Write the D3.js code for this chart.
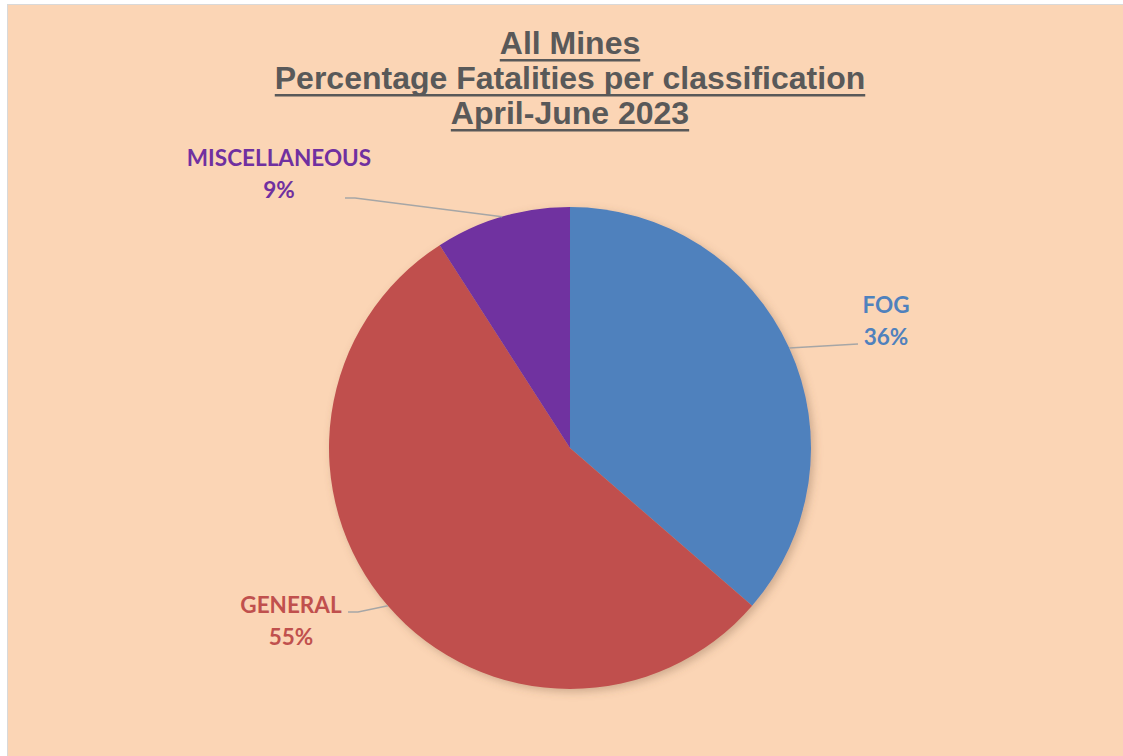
<!DOCTYPE html>
<html>
<head>
<meta charset="utf-8">
<script src="https://cdn.jsdelivr.net/npm/d3@7"></script>
<style>
  html, body { margin: 0; padding: 0; background: #fff; }
  svg { display: block; }
</style>
</head>
<body>
<div id="chart"></div>
<script>
// Data
const categories = ["FOG", "GENERAL", "MISCELLANEOUS"];
const fatalities = [4, 6, 1];
const percentLabels = ["36%", "55%", "9%"];
const colors = ["#4F81BD", "#C0504D", "#7030A0"];
const titleLines = ["All Mines", "Percentage Fatalities per classification", "April-June 2023"];

const width = 1123;
const height = 756;
const cx = 570, cy = 448, radius = 241;

// where each data label sits (text centre / baselines) and where its leader line ends
const labelLayout = {
  FOG:           { x: 886, y: 313, elbow: [858, 344], end: [858, 344] },
  GENERAL:       { x: 291, y: 613, elbow: [358, 612], end: [348, 612] },
  MISCELLANEOUS: { x: 279, y: 166, elbow: [355, 198], end: [345, 198] }
};

const svg = d3.select("#chart")
  .append("svg")
  .attr("width", width)
  .attr("height", height);

// chart area with the thin grey frame
svg.append("rect")
  .attr("x", 7.5).attr("y", 4.5)
  .attr("width", width + 20).attr("height", height + 20)
  .attr("fill", "#FBD5B5")
  .attr("stroke", "#D9D9D9")
  .attr("stroke-width", 1);

const defs = svg.append("defs");
const shadow = defs.append("filter")
  .attr("id", "shadow")
  .attr("x", "-20%").attr("y", "-20%")
  .attr("width", "140%").attr("height", "140%");
shadow.append("feDropShadow")
  .attr("dx", 3).attr("dy", 3)
  .attr("stdDeviation", 4)
  .attr("flood-color", "#7a5a40")
  .attr("flood-opacity", 0.35);

// Title
const title = svg.append("g")
  .attr("font-family", "'Liberation Sans', Arial, sans-serif")
  .attr("font-weight", "bold")
  .attr("font-size", 32)
  .attr("fill", "#595959");

titleLines.forEach((line, i) => {
  const baseline = 54 + i * 35;
  const txt = title.append("text")
    .attr("x", cx)
    .attr("y", baseline)
    .attr("text-anchor", "middle")
    .text(line);
  const w = txt.node().getComputedTextLength();
  title.append("rect")
    .attr("x", cx - w / 2)
    .attr("y", baseline + 5)
    .attr("width", w)
    .attr("height", 2.5)
    .attr("fill", "#595959");
});

// Pie
const pie = d3.pie().sort(null).value(d => d.value);
const arc = d3.arc().innerRadius(0).outerRadius(radius);

const data = categories.map((c, i) => ({
  name: c,
  value: fatalities[i],
  pct: percentLabels[i],
  color: colors[i]
}));
const arcs = pie(data);

const g = svg.append("g").attr("transform", `translate(${cx},${cy})`);

g.append("g")
  .attr("filter", "url(#shadow)")
  .selectAll("path")
  .data(arcs)
  .join("path")
  .attr("d", arc)
  .attr("fill", d => d.data.color);

// leader lines: start on the rim at the slice mid angle
const rimPoint = d => {
  const a = (d.startAngle + d.endAngle) / 2;
  return [cx + radius * Math.sin(a), cy - radius * Math.cos(a)];
};

svg.append("g")
  .selectAll("polyline")
  .data(arcs)
  .join("polyline")
  .attr("points", d => {
    const L = labelLayout[d.data.name];
    return [rimPoint(d), L.elbow, L.end].map(p => p.join(",")).join(" ");
  })
  .attr("fill", "none")
  .attr("stroke", "#A6A6A6")
  .attr("stroke-width", 1.5);

// Data labels
const labels = svg.append("g")
  .attr("font-family", "Lato, 'Open Sans', sans-serif")
  .attr("font-weight", "bold")
  .attr("font-size", 22.5)
  .attr("text-anchor", "middle")
  .selectAll("text")
  .data(arcs)
  .join("text")
  .attr("fill", d => d.data.color);

labels.append("tspan")
  .attr("x", d => labelLayout[d.data.name].x)
  .attr("y", d => labelLayout[d.data.name].y)
  .text(d => d.data.name);

labels.append("tspan")
  .attr("x", d => labelLayout[d.data.name].x)
  .attr("y", d => labelLayout[d.data.name].y + 32)
  .text(d => d.data.pct);
</script>
</body>
</html>
